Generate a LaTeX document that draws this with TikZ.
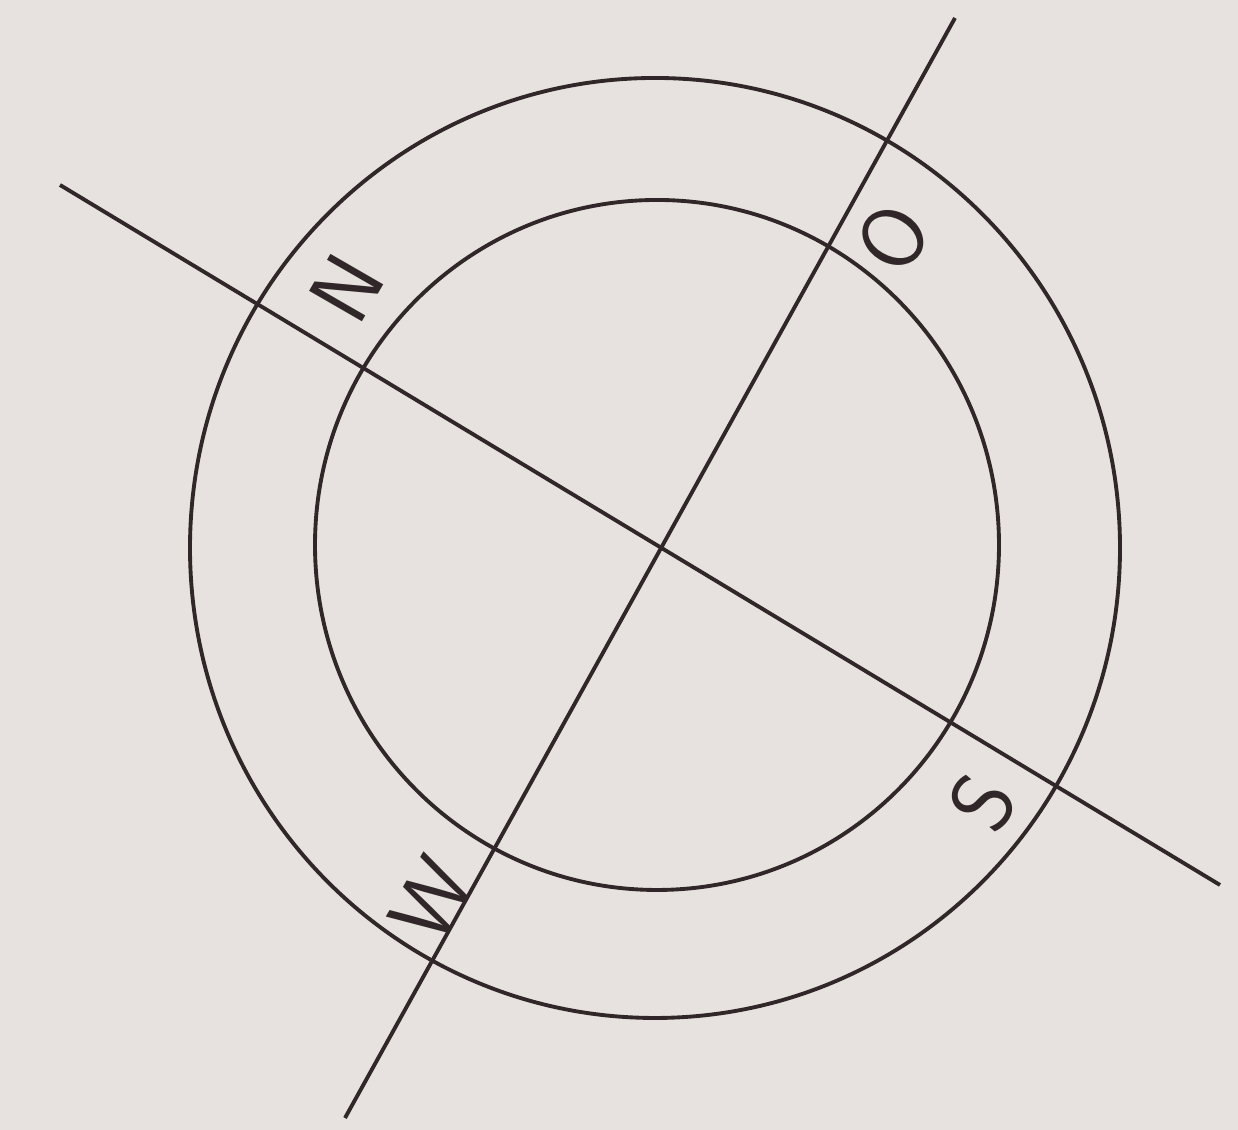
\documentclass[tikz,border=0pt]{standalone}
\usepackage{tikz}
\definecolor{papier}{RGB}{231,226,223}
\definecolor{tinte}{RGB}{48,40,40}

\begin{document}
\begin{tikzpicture}[
        linie/.style={draw=tinte, line width=1.1pt},
        buchstabe/.style={text=tinte, font=\fontsize{25}{25}\selectfont\sffamily,
                          inner sep=0pt, rotate=60}
    ]
        \fill[papier] (0,0) rectangle (12.38,11.30);
        \useasboundingbox (0,0) rectangle (12.38,11.30);

        % Kreise
        \draw[linie] (6.55,5.82) ellipse [x radius=4.65, y radius=4.70];
        \draw[linie] (6.57,5.85) ellipse [x radius=3.42, y radius=3.45];

        % Achsen
        \coordinate (nw) at (0.60, 9.45);
        \coordinate (so) at (12.20, 2.45);
        \coordinate (no) at (9.55, 11.12);
        \coordinate (sw) at (3.45, 0.12);
        \draw[linie] (nw) -- (so);
        \draw[linie] (no) -- (sw);

        % Himmelsrichtungen
        \node[buchstabe] (n) at (3.47, 8.42) {N};
        \node[buchstabe] (o) at (8.93, 8.92) {O};
        \node[buchstabe] (s) at (9.83, 3.28) {S};
        \node[buchstabe] (w) at (4.32, 2.30) {W};
    \end{tikzpicture}
\end{document}
